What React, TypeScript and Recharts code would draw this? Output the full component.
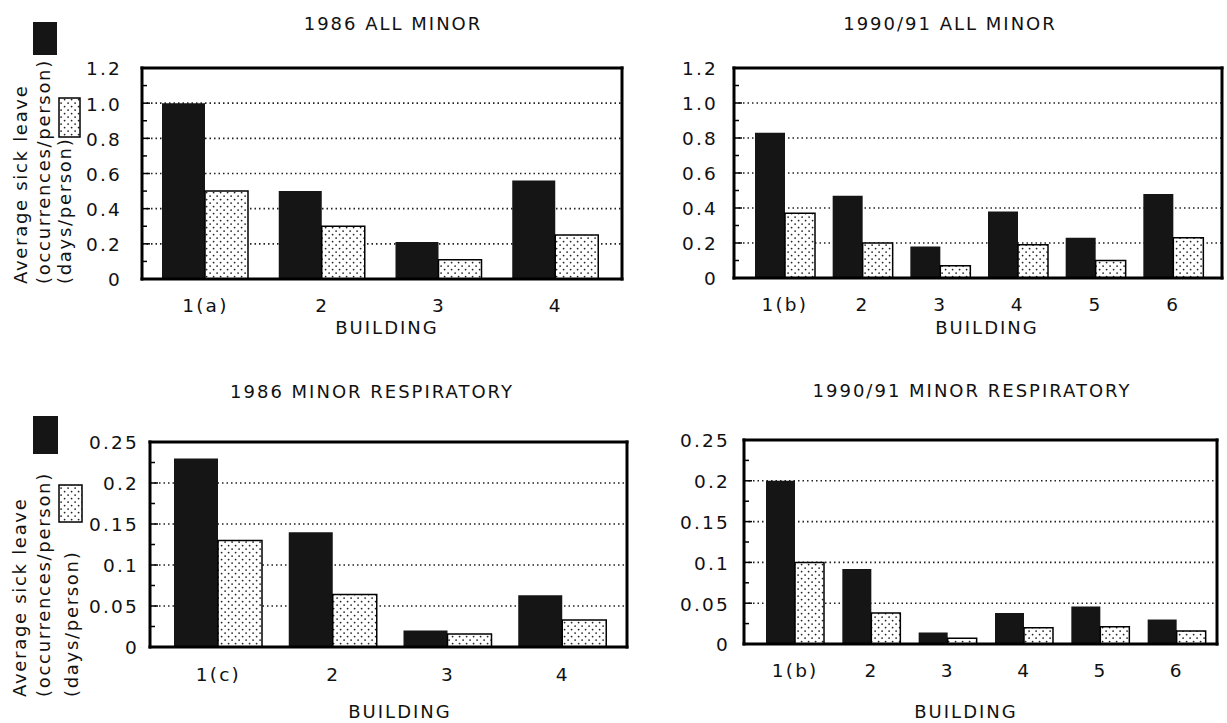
import React from 'react';
import { BarChart, Bar, XAxis, YAxis, CartesianGrid } from 'recharts';

const FONT = '"DejaVu Sans", "Liberation Sans", sans-serif';
const INK = '#111';

// ---------- data ----------
const allMinor1986Buildings = ['1(a)', '2', '3', '4'];
const allMinor1986Occ = [1.0, 0.5, 0.21, 0.56];
const allMinor1986Days = [0.5, 0.3, 0.11, 0.25];

const allMinor1990Buildings = ['1(b)', '2', '3', '4', '5', '6'];
const allMinor1990Occ = [0.83, 0.47, 0.18, 0.38, 0.23, 0.48];
const allMinor1990Days = [0.37, 0.2, 0.07, 0.19, 0.1, 0.23];

const resp1986Buildings = ['1(c)', '2', '3', '4'];
const resp1986Occ = [0.23, 0.14, 0.02, 0.063];
const resp1986Days = [0.13, 0.064, 0.016, 0.033];

const resp1990Buildings = ['1(b)', '2', '3', '4', '5', '6'];
const resp1990Occ = [0.2, 0.092, 0.014, 0.038, 0.046, 0.03];
const resp1990Days = [0.1, 0.038, 0.007, 0.02, 0.021, 0.016];

const allMinorTicks = [0, 0.1, 0.2, 0.3, 0.4, 0.5, 0.6, 0.7, 0.8, 0.9, 1.0, 1.1, 1.2];
const allMinorTickLabels = ['0', '', '0.2', '', '0.4', '', '0.6', '', '0.8', '', '1.0', '', '1.2'];
const allMinorGrid = [0.2, 0.4, 0.6, 0.8, 1.0];
const allMinorDomain = [0, 1.2];

const respTicks = [0, 0.025, 0.05, 0.075, 0.1, 0.125, 0.15, 0.175, 0.2, 0.225, 0.25];
const respTickLabels = ['0', '', '0.05', '', '0.1', '', '0.15', '', '0.2', '', '0.25'];
const respGrid = [0.05, 0.1, 0.15, 0.2];
const respDomain = [0, 0.25];

const titles = ['1986 ALL MINOR', '1990/91 ALL MINOR', '1986 MINOR RESPIRATORY', '1990/91 MINOR RESPIRATORY'];
const xTitle = 'BUILDING';
const yTitleLines = ['Average sick leave', '(occurrences/person)', '(days/person)'];

// ---------- layout ----------
const P1 = { x0: 142, x1: 622, y0: 68, y1: 279, bar: 43, padL: 5, padR: 8, yGap: 20, xGap: 20, tx: 393, ty: 24, bx: 387, by: 328 };
const P2 = { x0: 734, x1: 1222, y0: 68, y1: 278, bar: 30, padL: 12, padR: 10, yGap: 16, xGap: 20, tx: 950, ty: 24, bx: 987, by: 328 };
const P3 = { x0: 150, x1: 627, y0: 442, y1: 647, bar: 44, padL: 11, padR: 7, yGap: 11, xGap: 21, tx: 372, ty: 392, bx: 400, by: 712 };
const P4 = { x0: 744, x1: 1217, y0: 440, y1: 644, bar: 29, padL: 13, padR: 2, yGap: 14, xGap: 20, tx: 972, ty: 391, bx: 966, by: 712 };

const textStyle = { fontFamily: FONT, fontSize: 18.5, fill: INK, letterSpacing: 2.2 } as any;
const AXIS = { stroke: '#000', strokeWidth: 3, strokeLinecap: 'square' } as any;

function DotPattern({ id }: { id: string }) {
  return (
    <pattern id={id} width="7" height="7" patternUnits="userSpaceOnUse">
      <rect width="7" height="7" fill="#fff" />
      <circle cx="1.6" cy="1.6" r="0.9" fill="#222" />
      <circle cx="5.1" cy="5.1" r="0.9" fill="#222" />
    </pattern>
  );
}

function Panel({ cfg, id, buildings, occ, days, ticks, tickLabels, grid, domain }: any) {
  const data = buildings.map((b: string, i: number) => ({ building: b, occ: occ[i], days: days[i] }));
  const YW = 70, MT = 10, MR = 10, XH = 60;
  const w = YW + (cfg.x1 - cfg.x0) + MR;
  const h = MT + (cfg.y1 - cfg.y0) + XH;

  const YTick = (p: any) => {
    const { x, y, payload } = p;
    const idx = ticks.findIndex((t: number) => Math.abs(t - payload.value) < 1e-9);
    const label = idx >= 0 ? tickLabels[idx] : '';
    const ax = x + cfg.yGap;
    return (
      <g>
        <line x1={ax} x2={ax + (label ? 8 : 5)} y1={y} y2={y} stroke="#000" strokeWidth={1.5} />
        {label ? (
          <text x={x} y={y} dy="0.4em" textAnchor="end" style={textStyle}>
            {label}
          </text>
        ) : null}
      </g>
    );
  };

  const XTick = (p: any) => (
    <text x={p.x} y={p.y} dy="0.71em" textAnchor="middle" style={textStyle}>
      {p.payload.value}
    </text>
  );

  return (
    <div style={{ position: 'absolute', left: cfg.x0 - YW, top: cfg.y0 - MT }}>
      <BarChart width={w} height={h} data={data} margin={{ top: MT - 1, right: MR - 1, left: 0, bottom: 0 }} barGap={0}>
        <defs>
          <DotPattern id={id} />
        </defs>
        <CartesianGrid
          yAxisId="grid"
          vertical={false}
          stroke="#222"
          strokeDasharray="1.5 3"
          strokeWidth={1.6}
        />
        <XAxis
          dataKey="building"
          height={XH}
          tickSize={0}
          tickMargin={cfg.xGap}
          tick={XTick}
          tickLine={false}
          axisLine={AXIS}
          padding={{ left: cfg.padL, right: cfg.padR }}
          interval={0}
        />
        <XAxis xAxisId="top" orientation="top" dataKey="building" height={1} tick={false} tickLine={false} axisLine={AXIS} />
        <YAxis
          width={YW}
          domain={domain}
          ticks={ticks}
          interval={0}
          tickSize={0}
          tickMargin={cfg.yGap}
          tick={YTick}
          tickLine={false}
          axisLine={AXIS}
          allowDataOverflow
        />
        <YAxis yAxisId="grid" hide domain={domain} ticks={grid} interval={0} allowDataOverflow />
        <YAxis yAxisId="right" orientation="right" width={1} domain={domain} tick={false} tickLine={false} axisLine={AXIS} />
        <Bar dataKey="occ" fill="#151515" barSize={cfg.bar} isAnimationActive={false} />
        <Bar dataKey="days" fill={`url(#${id})`} stroke="#000" strokeWidth={1.5} barSize={cfg.bar} isAnimationActive={false} />
      </BarChart>
    </div>
  );
}

function YLabel({ base, xs, black, dotted, pid }: any) {
  const st = { fontFamily: FONT, fontSize: 18, fill: INK, letterSpacing: 1.7 } as any;
  return (
    <g>
      <rect x={black[0]} y={black[1]} width={black[2]} height={black[3]} fill="#151515" />
      <rect x={dotted[0]} y={dotted[1]} width={dotted[2]} height={dotted[3]} fill={`url(#${pid})`} stroke="#000" strokeWidth={1.5} />
      {yTitleLines.map((t, i) => (
        <text key={i} x={xs[i]} y={base} transform={`rotate(-90 ${xs[i]} ${base})`} textAnchor="start" style={st}>
          {t}
        </text>
      ))}
    </g>
  );
}

export default function App() {
  const panels = [P1, P2, P3, P4];
  const titleStyle = { fontFamily: FONT, fontSize: 18, fill: INK, letterSpacing: 2 } as any;
  return (
    <div style={{ position: 'absolute', left: 0, top: 0, width: 1227, height: 723, background: '#fff', overflow: 'hidden' }}>
      <svg width={1227} height={723} style={{ position: 'absolute', left: 0, top: 0 }}>
        <defs>
          <DotPattern id="legdots" />
        </defs>
        {panels.map((p, i) => (
          <text key={'t' + i} x={p.tx} y={p.ty} dy="0.36em" textAnchor="middle" style={titleStyle}>
            {titles[i]}
          </text>
        ))}
        {panels.map((p, i) => (
          <text key={'b' + i} x={p.bx} y={p.by} dy="0.36em" textAnchor="middle" style={titleStyle}>
            {xTitle}
          </text>
        ))}
        <YLabel base={284} xs={[27, 50, 71]} black={[33, 22, 24, 33]} dotted={[59, 98, 21, 39]} pid="legdots" />
        <YLabel base={697} xs={[26, 50, 78]} black={[33, 416, 25, 38]} dotted={[59, 485, 23, 37]} pid="legdots" />
      </svg>
      <Panel cfg={P1} id="dots1" buildings={allMinor1986Buildings} occ={allMinor1986Occ} days={allMinor1986Days}
        ticks={allMinorTicks} tickLabels={allMinorTickLabels} grid={allMinorGrid} domain={allMinorDomain} />
      <Panel cfg={P2} id="dots2" buildings={allMinor1990Buildings} occ={allMinor1990Occ} days={allMinor1990Days}
        ticks={allMinorTicks} tickLabels={allMinorTickLabels} grid={allMinorGrid} domain={allMinorDomain} />
      <Panel cfg={P3} id="dots3" buildings={resp1986Buildings} occ={resp1986Occ} days={resp1986Days}
        ticks={respTicks} tickLabels={respTickLabels} grid={respGrid} domain={respDomain} />
      <Panel cfg={P4} id="dots4" buildings={resp1990Buildings} occ={resp1990Occ} days={resp1990Days}
        ticks={respTicks} tickLabels={respTickLabels} grid={respGrid} domain={respDomain} />
    </div>
  );
}
